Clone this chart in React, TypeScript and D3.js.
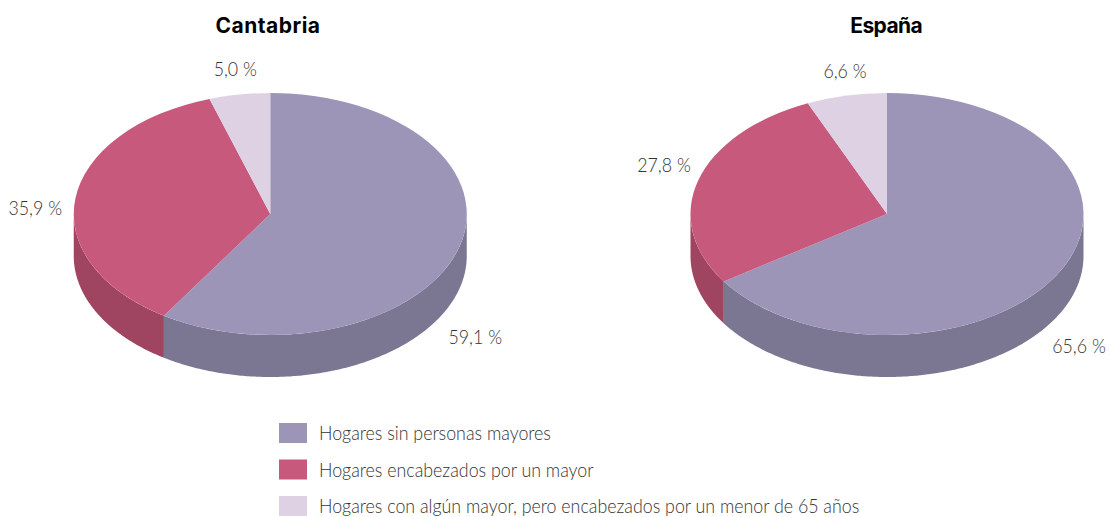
// App.tsx - two 3D-looking pies, Cantabria and España
import React, { useEffect, useRef } from 'react'
import * as d3 from 'd3'

const regions = ['Cantabria', 'España']
const categories = [
  'Hogares sin personas mayores',
  'Hogares encabezados por un mayor',
  'Hogares con algún mayor, pero encabezados por un menor de 65 años'
]
const cantabriaValues = [59.1, 35.9, 5.0]
const espanaValues = [65.6, 27.8, 6.6]
const topColors = ['#9c95b8', '#c7597d', '#dfd1e4']
const sideColors = ['#7b7793', '#9f4461', '#b5a8ba']

const WIDTH = 1110
const HEIGHT = 517
const RX = 196.5
const RY = 121
const DEPTH = 42
const CY = 214
const centers = [270.25, 887]
const titleX = [268, 886.2]
const titleSpacing = [0.5, -0.6]
const TEXT_SQUEEZE = 0.89 // the original face is narrower than Lato

// label centres relative to the pie centre, same order as the values
const labelOffsets = [
  [[205, 123], [-235, -6], [-35, -145]],
  [[192, 132], [-223, -49], [-42, -143]]
]

const FONT = 'Lato, sans-serif'

function App () {
  const ref = useRef<SVGSVGElement>(null)

  useEffect(() => {
    const svg = d3.select(ref.current)
    svg.selectAll('*').remove()

    const pie = d3.pie<number>().sort(null)
    const arc = d3.arc<d3.PieArcDatum<number>>().innerRadius(0).outerRadius(RX)

    const wall = d3.area<number>()
      .x(a => RX * Math.sin(a))
      .y0(a => -RY * Math.cos(a))
      .y1(a => -RY * Math.cos(a) + DEPTH)

    ;[cantabriaValues, espanaValues].forEach((values, c) => {
      const g = svg.append('g').attr('transform', `translate(${centers[c]},${CY})`)
      const slices = pie(values)

      // the side is only visible on the front half of the ellipse
      slices.forEach((s, i) => {
        const from = Math.max(s.startAngle, Math.PI / 2)
        const to = Math.min(s.endAngle, Math.PI * 1.5)
        if (from >= to) return
        const angles = d3.range(from, to, 0.01).concat(to)
        g.append('path')
          .attr('d', wall(angles))
          .attr('fill', sideColors[i])
      })

      g.append('g')
        .attr('transform', `scale(1,${RY / RX})`)
        .selectAll('path')
        .data(slices)
        .enter()
        .append('path')
        .attr('d', arc)
        .attr('fill', (d, i) => topColors[i])

      svg.append('text')
        .attr('x', titleX[c])
        .attr('y', 33)
        .attr('text-anchor', 'middle')
        .attr('font-family', 'Inter, sans-serif')
        .attr('font-weight', 700)
        .attr('font-size', 21)
        .attr('letter-spacing', titleSpacing[c])
        .attr('fill', '#000')
        .text(regions[c])

      values.forEach((v, i) => {
        g.append('text')
          .attr('transform', `translate(${labelOffsets[c][i][0]},${labelOffsets[c][i][1]}) scale(${TEXT_SQUEEZE},1)`)
          .attr('dy', '0.35em')
          .attr('text-anchor', 'middle')
          .attr('font-family', FONT)
          .attr('font-weight', 300)
          .attr('font-size', 20)
          .attr('fill', '#333')
          .text(v.toFixed(1).replace('.', ',') + ' %')
      })
    })

    // legend
    const legendY = d3.scalePoint<string>()
      .domain(categories)
      .range([433, 506])

    categories.forEach((name, i) => {
      svg.append('rect')
        .attr('x', 279)
        .attr('y', legendY(name)! - 10)
        .attr('width', 28)
        .attr('height', 20)
        .attr('fill', topColors[i])
      svg.append('text')
        .attr('transform', `translate(319,${legendY(name)}) scale(${TEXT_SQUEEZE},1)`)
        .attr('dy', '0.35em')
        .attr('font-family', FONT)
        .attr('font-weight', 300)
        .attr('font-size', 20)
        .attr('fill', '#333')
        .text(name)
    })
  }, [])

  return (
    <svg
      ref={ref}
      width={WIDTH}
      height={HEIGHT}
      style={{ position: 'absolute', left: 0, top: 0, background: '#fff' }}
    />
  )
}

export default App
